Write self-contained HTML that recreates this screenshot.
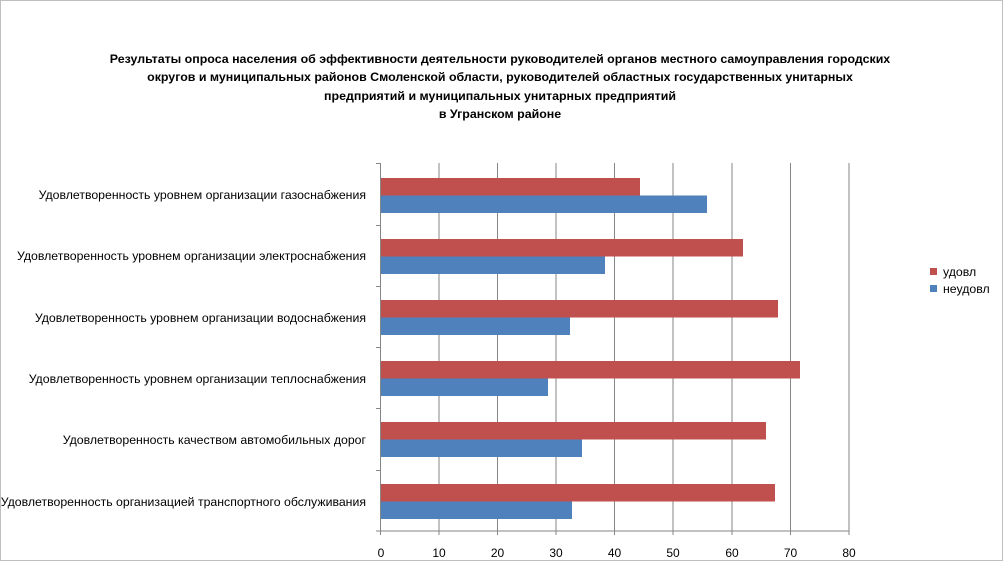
<!DOCTYPE html>
<html><head><meta charset="utf-8"><style>
body{margin:0;background:#fff}
svg{display:block;font-family:"Liberation Sans","DejaVu Sans",sans-serif}
</style></head><body>
<svg width="1004" height="562" viewBox="0 0 1004 562">
<rect x="0.5" y="0.5" width="1002" height="560" fill="#fff" stroke="#bfbfbf"/>
<g font-size="12.4" font-weight="bold" text-anchor="middle" fill="#000">
<text x="500" y="63">Результаты опроса населения об эффективности деятельности руководителей органов местного самоуправления городских</text>
<text x="500" y="81">округов и муниципальных районов Смоленской области, руководителей областных государственных унитарных</text>
<text x="500" y="100">предприятий и муниципальных унитарных предприятий</text>
<text x="500" y="118">в Угранском районе</text>
</g>
<g stroke="#868686" stroke-width="1">
<line x1="439" y1="163" x2="439" y2="531"/><line x1="497.5" y1="163" x2="497.5" y2="531"/>
<line x1="556" y1="163" x2="556" y2="531"/><line x1="614.5" y1="163" x2="614.5" y2="531"/>
<line x1="673" y1="163" x2="673" y2="531"/><line x1="732" y1="163" x2="732" y2="531"/>
<line x1="790.5" y1="163" x2="790.5" y2="531"/><line x1="849" y1="163" x2="849" y2="531"/>
</g>
<g fill="#c0504d">
<rect x="381" y="178" width="259" height="17.5"/>
<rect x="381" y="239" width="362" height="17.5"/>
<rect x="381" y="300" width="397" height="17.5"/>
<rect x="381" y="361" width="419" height="17.5"/>
<rect x="381" y="422" width="385" height="17.5"/>
<rect x="381" y="484" width="394" height="17.5"/>
</g>
<g fill="#4f81bd">
<rect x="381" y="195.5" width="326" height="17.5"/>
<rect x="381" y="256.5" width="224" height="17.5"/>
<rect x="381" y="317.5" width="189" height="17.5"/>
<rect x="381" y="378.5" width="167" height="17.5"/>
<rect x="381" y="439.5" width="201" height="17.5"/>
<rect x="381" y="501.5" width="191" height="17.5"/>
</g>
<g stroke="#868686" stroke-width="1">
<line x1="380.5" y1="163" x2="380.5" y2="531"/>
<line x1="376" y1="531" x2="849" y2="531"/>
<line x1="376" y1="163.5" x2="380" y2="163.5"/><line x1="376" y1="225.5" x2="380" y2="225.5"/>
<line x1="376" y1="286.5" x2="380" y2="286.5"/><line x1="376" y1="347.5" x2="380" y2="347.5"/>
<line x1="376" y1="408.5" x2="380" y2="408.5"/><line x1="376" y1="470.5" x2="380" y2="470.5"/>
<line x1="380.5" y1="531" x2="380.5" y2="535"/><line x1="439" y1="531" x2="439" y2="535"/>
<line x1="497.5" y1="531" x2="497.5" y2="535"/><line x1="556" y1="531" x2="556" y2="535"/>
<line x1="614.5" y1="531" x2="614.5" y2="535"/><line x1="673" y1="531" x2="673" y2="535"/>
<line x1="732" y1="531" x2="732" y2="535"/><line x1="790.5" y1="531" x2="790.5" y2="535"/>
<line x1="849" y1="531" x2="849" y2="535"/>
</g>
<g font-size="12" text-anchor="middle" fill="#000">
<text x="381" y="557">0</text><text x="439" y="557">10</text><text x="497.5" y="557">20</text>
<text x="556" y="557">30</text><text x="614.5" y="557">40</text><text x="673" y="557">50</text>
<text x="732" y="557">60</text><text x="790.5" y="557">70</text><text x="849" y="557">80</text>
</g>
<g font-size="12.3" text-anchor="end" fill="#000">
<text x="366" y="199">Удовлетворенность уровнем организации газоснабжения</text>
<text x="366" y="260">Удовлетворенность уровнем организации электроснабжения</text>
<text x="366" y="322">Удовлетворенность уровнем организации водоснабжения</text>
<text x="366" y="383">Удовлетворенность уровнем организации теплоснабжения</text>
<text x="366" y="444">Удовлетворенность качеством автомобильных дорог</text>
<text x="366" y="506">Удовлетворенность организацией транспортного обслуживания</text>
</g>
<rect x="930" y="268" width="7" height="7" fill="#c0504d"/>
<rect x="930" y="285" width="7" height="7" fill="#4f81bd"/>
<g font-size="12.3" fill="#000">
<text x="943" y="276">удовл</text>
<text x="943" y="293">неудовл</text>
</g>
</svg>
</body></html>
